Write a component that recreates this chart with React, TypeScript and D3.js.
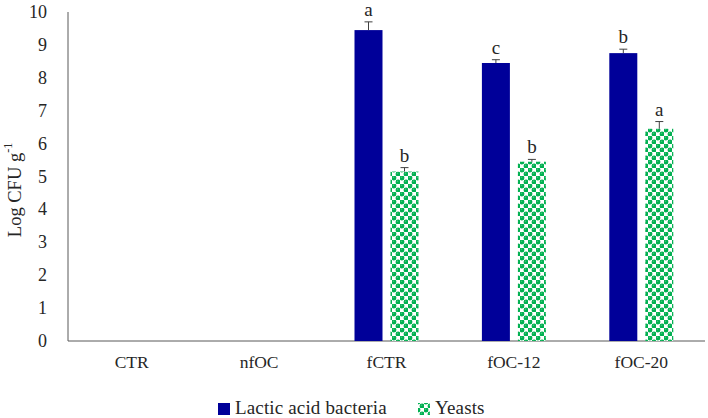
import React from "react";
import * as d3 from "d3";

const categories = ["CTR", "nfOC", "fCTR", "fOC-12", "fOC-20"];
const seriesNames = ["Lactic acid bacteria", "Yeasts"];
const labValues = [0, 0, 9.45, 8.45, 8.75];
const labErrors = [0, 0, 0.25, 0.1, 0.12];
const labLetters = ["", "", "a", "c", "b"];
const yeastValues = [0, 0, 5.15, 5.45, 6.45];
const yeastErrors = [0, 0, 0.12, 0.07, 0.22];
const yeastLetters = ["", "", "b", "b", "a"];
const yTicks = [0, 1, 2, 3, 4, 5, 6, 7, 8, 9, 10];

const W = 708;
const H = 418;
const left = 68;
const right = 705;
const top = 12;
const bottom = 341;
const BLUE = "#000099";
const GREEN = "#00B050";
const FONT = "'Liberation Serif', 'Times New Roman', serif";

export default function App() {
  const x = d3.scaleBand<string>().domain(categories).range([left, right]);
  const y = d3.scaleLinear().domain([0, 10]).range([bottom, top]);
  const barW = 28;
  const gap = 8;

  const series = [
    { vals: labValues, errs: labErrors, letters: labLetters, fill: BLUE, off: -gap / 2 - barW },
    { vals: yeastValues, errs: yeastErrors, letters: yeastLetters, fill: "url(#sphere)", off: gap / 2 },
  ];

  return (
    <svg width={W} height={H} style={{ position: "absolute", left: 0, top: 0 }}>
      <defs>
        <pattern id="sphere" width={8} height={8} patternUnits="userSpaceOnUse">
          <rect width={8} height={8} fill="#ffffff" />
          <rect x={0} y={0} width={4} height={4} fill="#7fd6a4" />
          <rect x={4} y={4} width={4} height={4} fill="#7fd6a4" />
          <circle cx={2} cy={2} r={2.4} fill={GREEN} />
          <circle cx={6} cy={6} r={2.4} fill={GREEN} />
          <circle cx={1.5} cy={1.3} r={0.8} fill="#3fc47a" />
          <circle cx={5.5} cy={5.3} r={0.8} fill="#3fc47a" />
        </pattern>
      </defs>
      <rect width={W} height={H} fill="#fff" />
      <line x1={left} x2={left} y1={top} y2={bottom} stroke="#595959" strokeWidth={1} />
      <line x1={left} x2={right} y1={bottom} y2={bottom} stroke="#595959" strokeWidth={1} />
      {yTicks.map((t) => (
        <text key={t} x={47} y={y(t)} textAnchor="end" dominantBaseline="central" fontFamily={FONT} fontSize={18} fill="#262626">
          {t}
        </text>
      ))}
      <text transform={`translate(15,190) rotate(-90)`} textAnchor="middle" dominantBaseline="central" fontFamily={FONT} fontSize={18.5} fill="#262626">
        Log CFU g<tspan dy={-7} fontSize={12}>-1</tspan>
      </text>
      {categories.map((c) => (
        <text key={c} x={(x(c) as number) + x.bandwidth() / 2} y={368} textAnchor="middle" fontFamily={FONT} fontSize={17.5} fill="#262626">
          {c}
        </text>
      ))}
      {series.map((s, si) =>
        categories.map((c, i) => {
          const v = s.vals[i];
          if (v <= 0) return null;
          const cx = (x(c) as number) + x.bandwidth() / 2 + s.off;
          const mid = cx + barW / 2;
          const eTop = y(v + s.errs[i]);
          return (
            <g key={`${si}-${c}`}>
              <rect x={cx} y={y(v)} width={barW} height={bottom - y(v)} fill={s.fill} />
              <line x1={mid} x2={mid} y1={y(v)} y2={eTop} stroke="#404040" strokeWidth={1} />
              <line x1={mid - 4} x2={mid + 4} y1={eTop} y2={eTop} stroke="#404040" strokeWidth={1} />
              <text x={mid} y={eTop - 6} textAnchor="middle" fontFamily={FONT} fontSize={19} fill="#262626">
                {s.letters[i]}
              </text>
            </g>
          );
        })
      )}
      <rect x={218} y={403} width={12} height={12} fill={BLUE} />
      <text x={235} y={414} fontFamily={FONT} fontSize={19} letterSpacing={0.15} fill="#262626">{seriesNames[0]}</text>
      <rect x={418} y={403} width={12} height={12} fill="url(#sphere)" />
      <text x={435} y={414} fontFamily={FONT} fontSize={19} letterSpacing={0.15} fill="#262626">{seriesNames[1]}</text>
    </svg>
  );
}
